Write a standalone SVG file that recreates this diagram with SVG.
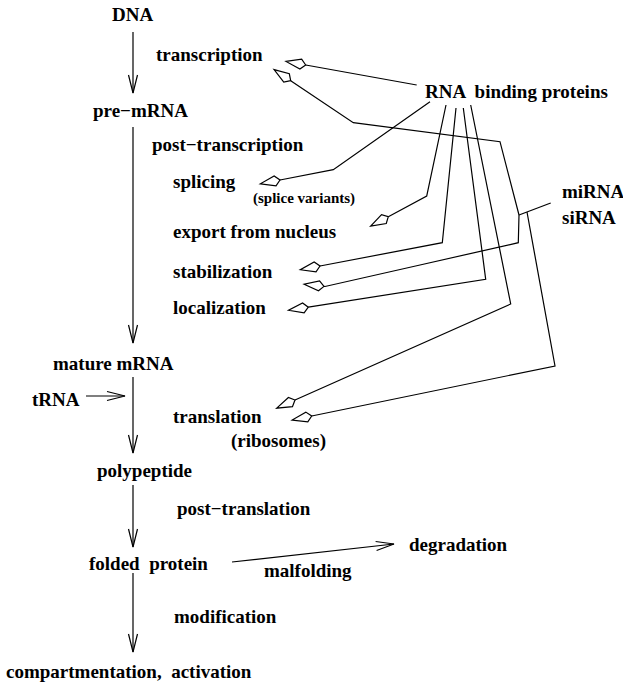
<svg xmlns="http://www.w3.org/2000/svg" width="623" height="684" viewBox="0 0 623 684">
<style>
text{font-family:"Liberation Serif","Times New Roman",serif;font-weight:bold;font-size:19px;fill:#000;white-space:pre}
.small{font-size:15px}
.ln{fill:none;stroke:#000;stroke-width:1.2}
.arr{marker-end:url(#vee)}
.kite{marker-end:url(#kite)}
</style>
<defs>
<marker id="vee" markerUnits="userSpaceOnUse" orient="auto" markerWidth="30" markerHeight="30" refX="0" refY="0" viewBox="-25 -15 30 30" overflow="visible">
<path d="M-18,-4.5 L0,0 L-18,4.5" fill="none" stroke="#000" stroke-width="1.2"/>
</marker>
<marker id="kite" markerUnits="userSpaceOnUse" orient="auto" markerWidth="30" markerHeight="30" refX="0" refY="0" viewBox="-5 -15 30 30" overflow="visible">
<path d="M0,0 L5,-5 L20,0 L5,5 Z" fill="#fff" stroke="#000" stroke-width="1.2" stroke-linejoin="miter"/>
</marker>
</defs>

<g id="n-dna"><text x="112" y="21">DNA</text></g>
<g id="n-transcription"><text x="156" y="61">transcription</text></g>
<g id="n-premrna"><text x="93" y="117">pre−mRNA</text></g>
<g id="n-posttranscription"><text x="152" y="151">post−transcription</text></g>
<g id="n-splicing"><text x="173" y="188">splicing</text><text class="small" x="253" y="203">(splice variants)</text></g>
<g id="n-export"><text x="173" y="238">export from nucleus</text></g>
<g id="n-stabilization"><text x="173" y="278">stabilization</text></g>
<g id="n-localization"><text x="173" y="314">localization</text></g>
<g id="n-maturemrna"><text x="53" y="370">mature mRNA</text></g>
<g id="n-trna"><text x="32" y="406">tRNA</text></g>
<g id="n-translation"><text x="173" y="423">translation</text><text x="231" y="447">(ribosomes)</text></g>
<g id="n-polypeptide"><text x="97" y="477">polypeptide</text></g>
<g id="n-posttranslation"><text x="177" y="515">post−translation</text></g>
<g id="n-folded"><text x="89" y="570">folded  protein</text></g>
<g id="n-degradation"><text x="409" y="551">degradation</text></g>
<g id="n-malfolding"><text x="264" y="577">malfolding</text></g>
<g id="n-modification"><text x="174" y="623">modification</text></g>
<g id="n-compartment"><text x="6" y="678">compartmentation,  activation</text></g>
<g id="n-rbp"><text x="425" y="98">RNA  binding proteins</text></g>
<g id="n-mirna"><text x="562" y="198">miRNA</text><text x="562" y="224">siRNA</text></g>

<g id="connectors">
<path class="ln arr" d="M133,32 L133,93"/>
<path class="ln arr" d="M133,127 L133,343"/>
<path class="ln arr" d="M133,377 L133,453"/>
<path class="ln arr" d="M133,485 L133,547"/>
<path class="ln arr" d="M133,573 L133,652"/>
<path class="ln arr" d="M86,396 L125,396"/>
<path class="ln arr" d="M232,562 L394,544"/>

<path class="ln kite" d="M416.7,85 L305.7,65"/>
<path class="ln kite" d="M430,101.7 L333.3,169.7 L280,180"/>
<path class="ln kite" d="M446,105 L426.7,196 L388.3,216.7"/>
<path class="ln kite" d="M456,108 L442.3,242.7 L320,266"/>
<path class="ln kite" d="M463.3,108 L485.7,279.3 L308.3,307.2"/>
<path class="ln kite" d="M470.7,105 L510.7,304 L295,400"/>

<path class="ln" d="M550.7,203 L519,215"/>
<path class="ln kite" d="M519,215 L500,141.7 L353.3,122.7 L290.7,80.7"/>
<path class="ln kite" d="M519,215 L518.3,242.7 L420,265 L325,286.5 L324,286.39"/>
<path class="ln kite" d="M527,212 L555,366 L311.7,416"/>
</g>
</svg>
